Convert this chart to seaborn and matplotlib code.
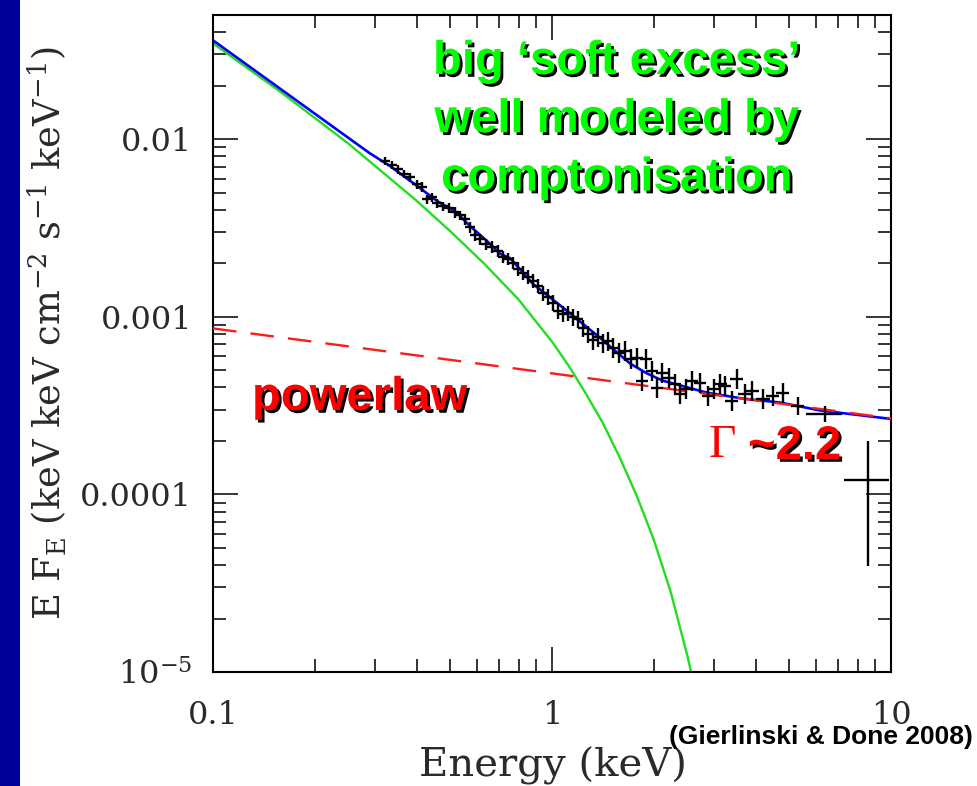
import matplotlib
matplotlib.use("Agg")
import numpy as np
import pandas as pd
import seaborn as sns
import matplotlib.pyplot as plt
import matplotlib.patheffects as pe
from matplotlib.patches import Rectangle
from matplotlib.ticker import FixedLocator, FixedFormatter, LogLocator, NullFormatter

# ---- model components (energy in keV, E F_E) ----
comp_energy = [0.10, 0.1585, 0.2512, 0.3981, 0.5012, 0.631, 0.794, 1.0, 1.122, 1.259,
               1.413, 1.585, 1.778, 1.995, 2.239, 2.512, 2.818]
comp_flux = [0.0346, 0.01841, 0.00942, 0.00451, 0.00303, 0.00199, 0.00126, 0.000724,
             0.000527, 0.000369, 0.000252, 0.000161, 9.82e-5, 5.58e-5, 2.83e-5,
             1.22e-5, 4.54e-6]

pl_energy = [0.10, 10.0]
pl_flux = [8.6e-4, 2.68e-4]

model_energy = [0.10, 0.29, 0.333, 0.40, 0.458, 0.525, 0.573, 0.643, 0.703, 0.752,
                0.879, 1.107, 1.386, 1.70, 1.905, 2.12, 2.86, 3.66, 4.71, 6.17, 10.0]
model_flux = [0.0360, 0.00833, 0.00705, 0.00545, 0.00449, 0.00384, 0.00324,
              0.00267, 0.00226, 0.00214, 0.00153, 0.00108, 0.00076, 0.000545, 0.00048,
              0.000437, 0.000374, 0.000346, 0.000329, 0.000297, 0.000266]

# ---- observed spectrum ----
data_energy = [0.322, 0.337, 0.351, 0.366, 0.381, 0.400, 0.414, 0.428, 0.443, 0.458,
               0.477, 0.497, 0.518, 0.536, 0.554, 0.573, 0.593, 0.613, 0.639, 0.665,
               0.693, 0.717, 0.742, 0.767, 0.794, 0.821, 0.850, 0.879, 0.909, 0.941,
               0.973, 1.007, 1.042, 1.078, 1.115, 1.153, 1.193, 1.234, 1.277, 1.321,
               1.367, 1.414, 1.463, 1.513, 1.576, 1.641, 1.710, 1.781, 1.843, 1.894,
               1.972, 2.040, 2.111, 2.214, 2.306, 2.386, 2.485, 2.588, 2.733, 2.886,
               3.006, 3.131, 3.238, 3.396, 3.513, 3.710, 3.891, 4.194, 4.486, 4.801,
               5.317, 6.383, 8.55]
data_flux = [0.00752, 0.00714, 0.00678, 0.00636, 0.00612, 0.00559, 0.00538, 0.00460, 0.00472, 0.00437,
             0.00420, 0.00410, 0.00389, 0.00374, 0.00355, 0.00320, 0.00289, 0.00274, 0.00257, 0.00247,
             0.00235, 0.00217, 0.00212, 0.00201, 0.00186, 0.00177, 0.00168, 0.00159, 0.00149, 0.00136,
             0.00130, 0.00120, 0.00108, 0.00104, 0.00105, 0.00100, 0.000975, 0.000867, 0.000803, 0.000743,
             0.000772, 0.000714, 0.000733, 0.000670, 0.000628, 0.000644, 0.000581, 0.000588, 0.000437, 0.000581,
             0.000497, 0.000399, 0.000484, 0.000454, 0.000420, 0.000369, 0.000394, 0.000437, 0.000426, 0.000360,
             0.000394, 0.000420, 0.000410, 0.000337, 0.000448, 0.000369, 0.000384, 0.000346, 0.000360, 0.000374,
             0.000316, 0.000285, 0.000120]
data_flux_relerr = [0.05, 0.05, 0.06, 0.05, 0.06, 0.06, 0.06, 0.06, 0.06, 0.06,
                    0.06, 0.06, 0.07, 0.06, 0.07, 0.07, 0.07, 0.07, 0.07, 0.08,
                    0.08, 0.08, 0.08, 0.08, 0.09, 0.09, 0.09, 0.09, 0.09, 0.10,
                    0.10, 0.10, 0.10, 0.10, 0.10, 0.11, 0.11, 0.11, 0.11, 0.12,
                    0.12, 0.12, 0.12, 0.13, 0.13, 0.13, 0.13, 0.13, 0.13, 0.13,
                    0.13, 0.13, 0.13, 0.13, 0.13, 0.13, 0.13, 0.13, 0.13, 0.13,
                    0.13, 0.13, 0.13, 0.13, 0.13, 0.13, 0.13, 0.13, 0.13, 0.13,
                    0.12, 0.10, 0.67]
data_energy_relerr = [0.035, 0.035, 0.035, 0.035, 0.035, 0.035, 0.035, 0.035, 0.035, 0.035,
                      0.035, 0.035, 0.035, 0.035, 0.035, 0.035, 0.035, 0.035, 0.035, 0.035,
                      0.035, 0.035, 0.035, 0.035, 0.035, 0.035, 0.035, 0.035, 0.035, 0.035,
                      0.035, 0.035, 0.035, 0.035, 0.035, 0.035, 0.035, 0.035, 0.035, 0.035,
                      0.04, 0.04, 0.04, 0.04, 0.04, 0.04, 0.04, 0.04, 0.04, 0.04,
                      0.04, 0.04, 0.04, 0.04, 0.04, 0.04, 0.04, 0.04, 0.04, 0.04,
                      0.045, 0.045, 0.045, 0.045, 0.045, 0.045, 0.045, 0.045, 0.045, 0.045,
                      0.045, 0.12, 0.15]

x_ticks = [0.1, 1, 10]
x_tick_labels = ["0.1", "1", "10"]
y_ticks = [1e-5, 1e-4, 1e-3, 1e-2]
y_tick_labels = [r"$10^{-5}$", "0.0001", "0.001", "0.01"]

# ---- style ----
sns.set_theme(style="ticks")
plt.rcParams["font.family"] = ["DejaVu Serif"]
plt.rcParams["mathtext.fontset"] = "dejavuserif"

W, H = 977, 786
fig = plt.figure(figsize=(W / 100, H / 100), dpi=100)
fig.patch.set_facecolor("white")
fig.patches.append(Rectangle((0, 0), 20 / W, 1, transform=fig.transFigure,
                             facecolor="#000099", edgecolor="none", zorder=0))

x0, x1, y0, y1 = 213, 891, 15, 672
ax = fig.add_axes([x0 / W, 1 - y1 / H, (x1 - x0) / W, (y1 - y0) / H])
ax.set_facecolor("white")

comp_df = pd.DataFrame({"energy": comp_energy, "flux": comp_flux})
pl_df = pd.DataFrame({"energy": pl_energy, "flux": pl_flux})
model_df = pd.DataFrame({"energy": model_energy, "flux": model_flux})

sns.lineplot(data=comp_df, x="energy", y="flux", ax=ax, color="#22dd22", lw=1.7,
             zorder=2, estimator=None)
sns.lineplot(data=model_df, x="energy", y="flux", ax=ax, color="#0000ff", lw=1.9,
             zorder=3, estimator=None)
sns.lineplot(data=pl_df, x="energy", y="flux", ax=ax, color="#ff1a1a", lw=1.7,
             linestyle=(0, (10, 6)), zorder=4, estimator=None)

de = np.array(data_energy)
df_ = np.array(data_flux)
ax.errorbar(de, df_, xerr=de * np.array(data_energy_relerr),
            yerr=df_ * np.array(data_flux_relerr), fmt="none",
            ecolor="black", elinewidth=1.7, capsize=0, zorder=5)

ax.set_xscale("log")
ax.set_yscale("log")
ax.set_xlim(0.1, 10)
ax.set_ylim(1e-5, 0.05)

ax.xaxis.set_major_locator(FixedLocator(x_ticks))
ax.xaxis.set_major_formatter(FixedFormatter(x_tick_labels))
ax.yaxis.set_major_locator(FixedLocator(y_ticks))
ax.yaxis.set_major_formatter(FixedFormatter(y_tick_labels))
ax.xaxis.set_minor_locator(LogLocator(base=10, subs=np.arange(2, 10)))
ax.yaxis.set_minor_locator(LogLocator(base=10, subs=np.arange(2, 10)))
ax.xaxis.set_minor_formatter(NullFormatter())
ax.yaxis.set_minor_formatter(NullFormatter())

for s in ax.spines.values():
    s.set_visible(True)
    s.set_linewidth(1.5)
    s.set_color("black")

ax.tick_params(which="both", direction="in", top=True, right=True, color="black")
ax.tick_params(which="major", length=18, width=1.1)
ax.tick_params(which="minor", length=9.5, width=1.1)
ax.tick_params(axis="x", which="major", pad=20, labelsize=23, labelcolor="#2a2a2a")
ax.tick_params(axis="y", which="major", pad=15, labelsize=23, labelcolor="#2a2a2a")

ax.set_xlabel("Energy (keV)", fontsize=29, color="#2a2a2a")
ax.set_ylabel(r"E F$_{\rm E}$ (keV keV cm$^{-2}$ s$^{-1}$ keV$^{-1}$)", fontsize=26.5, color="#2a2a2a")
ax.xaxis.set_label_coords((553 - x0) / (x1 - x0), (y1 - 766) / (y1 - y0))
ax.xaxis.label.set_va("center")
ax.yaxis.set_label_coords((47 - x0) / (x1 - x0), (y1 - 333) / (y1 - y0))
ax.yaxis.label.set_va("center")
ax.yaxis.label.set_ha("center")

# ---- annotations ----
shadow = [pe.withSimplePatchShadow(offset=(2, -2), shadow_rgbFace="black", alpha=1.0)]
sans = ["Liberation Sans", "DejaVu Sans"]

fig.text(617 / W, 1 - 40 / H, "big \u2018soft excess\u2019\nwell modeled by\ncomptonisation",
         ha="center", va="top", fontsize=34, fontweight="bold", color="#00ff00",
         family=sans, linespacing=1.42, path_effects=shadow)
fig.text(252 / W, 1 - 410 / H, "powerlaw", ha="left", va="baseline", fontsize=34,
         fontweight="bold", color="#ff0000", family=sans, path_effects=shadow)
fig.text(709 / W, 1 - 457 / H, "\u0393", ha="left", va="baseline", fontsize=34,
         color="#ff0000", family=["Liberation Serif", "DejaVu Serif"])
fig.text(748 / W, 1 - 459 / H, "~2.2", ha="left", va="baseline", fontsize=34,
         fontweight="bold", color="#ff0000", family=sans, path_effects=shadow)
fig.text(973 / W, 1 - 737 / H, "(Gierlinski & Done 2008)", ha="right", va="center",
         fontsize=19, fontweight="bold", color="black", family=sans)

fig.savefig("out.png", dpi=100, facecolor="white")
